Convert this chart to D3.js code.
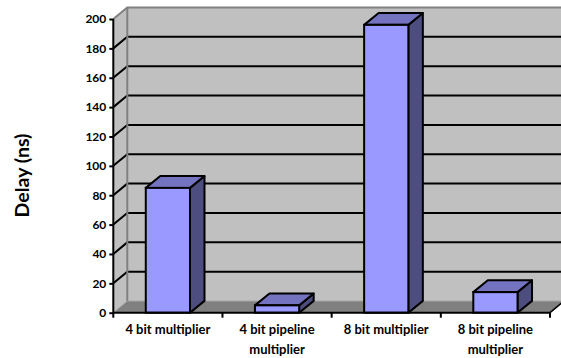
<!DOCTYPE html>
<html>
<head>
<meta charset="utf-8">
<script src="https://cdn.jsdelivr.net/npm/d3@7"></script>
<style>
  html, body { margin: 0; padding: 0; background: #ffffff; }
  svg { display: block; }
  text { font-family: Lato, "Open Sans", "Liberation Sans", sans-serif; font-weight: bold; fill: #000; }
</style>
</head>
<body>
<svg id="chart" width="561" height="358"></svg>
<script>
// Delay of multiplier designs
const categories = [["4 bit multiplier"], ["4 bit pipeline", "multiplier"], ["8 bit multiplier"], ["8 bit pipeline", "multiplier"]];
const delays = [85, 5, 196, 14];
const yTicks = [0, 20, 40, 60, 80, 100, 120, 140, 160, 180, 200];
const yTitle = "Delay (ns)";

const svg = d3.select("#chart");

// front plane of the 3-D box
const x0 = 113.3, x1 = 550;
const yBottom = 312.7, yTop = 19;
// wall depth offset and column depth offset
const wdx = 14, wdy = -11.6;
const bdx = 14.5, bdy = -11.8;

const x = d3.scaleBand().domain(d3.range(categories.length)).range([x0, x1]).padding(0);
const y = d3.scaleLinear().domain([0, 200]).range([yBottom, yTop]);
const barW = x.bandwidth() * 0.405;

const pts = p => p.map(d => d.join(",")).join(" ");

// back wall
svg.append("polygon")
  .attr("points", pts([[x0 + wdx, y(200) + wdy], [x1 + wdx, y(200) + wdy], [x1 + wdx, y(0) + wdy], [x0 + wdx, y(0) + wdy]]))
  .attr("fill", "#c0c0c0");
// side wall
svg.append("polygon")
  .attr("points", pts([[x0, y(200)], [x0 + wdx, y(200) + wdy], [x0 + wdx, y(0) + wdy], [x0, y(0)]]))
  .attr("fill", "#c0c0c0");
// floor
svg.append("polygon")
  .attr("points", pts([[x0, y(0)], [x1, y(0)], [x1 + wdx, y(0) + wdy], [x0 + wdx, y(0) + wdy]]))
  .attr("fill", "#808080");

// gridlines on back and side walls
const grid = yTicks.filter(t => t > 0 && t < 200);
svg.append("g").selectAll("path").data(grid).join("path")
  .attr("d", t => `M${x0},${y(t)}L${x0 + wdx},${y(t) + wdy}L${x1 + wdx},${y(t) + wdy}`)
  .attr("fill", "none").attr("stroke", "#000").attr("stroke-width", 2);

// wall edges
svg.append("path")
  .attr("d", `M${x0},${y(200)}L${x0 + wdx},${y(200) + wdy}L${x1 + wdx},${y(200) + wdy}`)
  .attr("fill", "none").attr("stroke", "#808080").attr("stroke-width", 2);
svg.append("path")
  .attr("d", `M${x0 + wdx},${y(200) + wdy}L${x0 + wdx},${y(0) + wdy}`)
  .attr("fill", "none").attr("stroke", "#808080").attr("stroke-width", 2);
svg.append("path")
  .attr("d", `M${x0},${y(0)}L${x0 + wdx},${y(0) + wdy}L${x1 + wdx},${y(0) + wdy}`)
  .attr("fill", "none").attr("stroke", "#a0a0a0").attr("stroke-width", 1);
svg.append("path")
  .attr("d", `M${x1},${y(0)}L${x1 + wdx},${y(0) + wdy}`)
  .attr("fill", "none").attr("stroke", "#000").attr("stroke-width", 1.5);

// columns
const bars = svg.append("g").selectAll("g").data(delays).join("g");
const bx = (d, i) => x(i) + (x.bandwidth() - barW) / 2;
bars.append("polygon") // side
  .attr("points", (d, i) => pts([[bx(d, i) + barW, y(d)], [bx(d, i) + barW + bdx, y(d) + bdy], [bx(d, i) + barW + bdx, y(0) + bdy], [bx(d, i) + barW, y(0)]]))
  .attr("fill", "#4d4d80").attr("stroke", "#000").attr("stroke-width", 2).attr("stroke-linejoin", "round");
bars.append("polygon") // top
  .attr("points", (d, i) => pts([[bx(d, i), y(d)], [bx(d, i) + bdx, y(d) + bdy], [bx(d, i) + barW + bdx, y(d) + bdy], [bx(d, i) + barW, y(d)]]))
  .attr("fill", "#7373bf").attr("stroke", "#000").attr("stroke-width", 2).attr("stroke-linejoin", "round");
bars.append("rect") // front
  .attr("x", (d, i) => bx(d, i)).attr("y", d => y(d))
  .attr("width", barW).attr("height", d => y(0) - y(d))
  .attr("fill", "#9999ff").attr("stroke", "#000").attr("stroke-width", 2);

// value axis
const yAxis = svg.append("g").attr("transform", `translate(${x0},0)`)
  .call(d3.axisLeft(y).tickValues(yTicks).tickSize(4).tickPadding(3));
yAxis.select(".domain").attr("stroke", "#000").attr("stroke-width", 2).attr("d", `M0,${y(200)}V${y(0)}`);
yAxis.selectAll(".tick line").attr("stroke", "#000").attr("stroke-width", 2);
yAxis.selectAll(".tick text").attr("font-size", 12).attr("font-family", null).attr("font-weight", "bold");

// category axis
const xAxis = svg.append("g").attr("transform", `translate(0,${y(0)})`)
  .call(d3.axisBottom(x).tickSize(0).tickFormat(""));
xAxis.select(".domain").attr("stroke", "#000").attr("stroke-width", 2).attr("d", `M${x0},0H${x1}`);
svg.append("g").selectAll("line").data(d3.range(categories.length + 1)).join("line")
  .attr("x1", i => x0 + i * x.step()).attr("x2", i => x0 + i * x.step())
  .attr("y1", y(0)).attr("y2", y(0) + 5)
  .attr("stroke", "#000").attr("stroke-width", 2);

const labels = svg.append("g").selectAll("text").data(categories).join("text")
  .attr("x", (d, i) => x(i) + x.bandwidth() / 2)
  .attr("y", y(0) + 21.3)
  .attr("text-anchor", "middle").attr("font-size", 13);
labels.selectAll("tspan").data(d => d).join("tspan")
  .attr("x", function () { return this.parentNode.getAttribute("x"); })
  .attr("dy", (d, j) => j === 0 ? 0 : 19.5)
  .text(d => d);

// axis title
svg.append("text")
  .attr("transform", `translate(29,175.5) rotate(-90)`)
  .attr("text-anchor", "middle").attr("font-size", 19.5)
  .text(yTitle);
</script>
</body>
</html>
